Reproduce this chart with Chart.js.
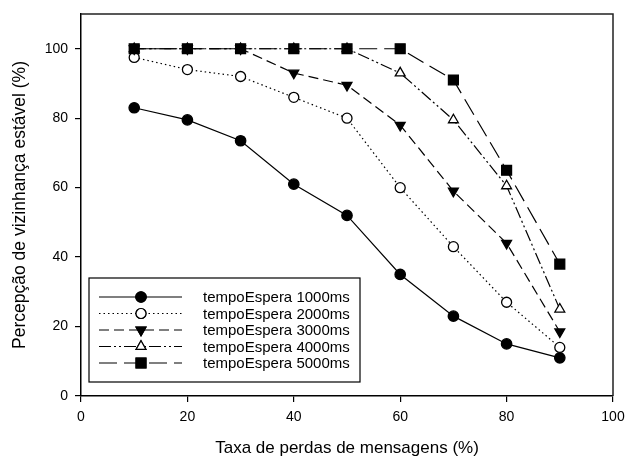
<!DOCTYPE html>
<html>
<head>
<meta charset="utf-8">
<script src="https://cdn.jsdelivr.net/npm/chart.js@4/dist/chart.umd.min.js"></script>
<style>
  html, body { margin: 0; padding: 0; background: #ffffff; }
  #wrap { width: 626px; height: 457px; position: relative; }
</style>
</head>
<body>
<div id="wrap"><canvas id="c" width="626" height="457"></canvas></div>
<script>
// ---- data ----
const lossRates = [10, 20, 30, 40, 50, 60, 70, 80, 90];
const seriesNames = ['tempoEspera 1000ms', 'tempoEspera 2000ms', 'tempoEspera 3000ms', 'tempoEspera 4000ms', 'tempoEspera 5000ms'];
const wait1000 = [83, 79.5, 73.5, 61, 52, 35, 23, 15, 11];
const wait2000 = [97.5, 94, 92, 86, 80, 60, 43, 27, 14];
const wait3000 = [100, 100, 100, 93, 89.5, 78, 59, 44, 18.5];
const wait4000 = [100, 100, 100, 100, 100, 93, 79.5, 60.5, 25];
const wait5000 = [100, 100, 100, 100, 100, 100, 91, 65, 38];
const xTickValues = [0, 20, 40, 60, 80, 100];
const yTickValues = [0, 20, 40, 60, 80, 100];
const xTitle = 'Taxa de perdas de mensagens (%)';
const yTitle = 'Percepção de vizinhança estável (%)';

const FONT = "'Liberation Sans', Arial, sans-serif";

function pts(values) { return lossRates.map((x, i) => ({ x: x, y: values[i] })); }

const styles = [
  { dash: [], pointStyle: 'circle', fill: '#000', radius: 5.2, rotation: 0 },
  { dash: [1.5, 3], pointStyle: 'circle', fill: '#fff', radius: 5, rotation: 0 },
  { dash: [10, 5], pointStyle: 'triangle', fill: '#000', radius: 5.7, rotation: 180 },
  { dash: [12, 3, 2, 3, 2, 3], pointStyle: 'triangle', fill: '#fff', radius: 5.7, rotation: 0 },
  { dash: [18, 7], pointStyle: 'rect', fill: '#000', radius: 7, rotation: 0 }
];
const allValues = [wait1000, wait2000, wait3000, wait4000, wait5000];

const datasets = allValues.map((vals, i) => ({
  label: seriesNames[i],
  data: pts(vals),
  order: 4 - i,
  borderColor: '#000',
  borderWidth: 1.2,
  borderDash: styles[i].dash,
  pointStyle: styles[i].pointStyle,
  pointRotation: styles[i].rotation,
  pointRadius: styles[i].radius,
  pointBackgroundColor: styles[i].fill,
  pointBorderColor: '#000',
  pointBorderWidth: 1.3,
  fill: false,
  tension: 0
}));

// frame plugin (top & right borders)
const framePlugin = {
  id: 'frame',
  afterDatasetsDraw(chart) {
    const { ctx, chartArea: a } = chart;
    ctx.save();
    ctx.strokeStyle = '#222';
    ctx.lineWidth = 1.5;
    ctx.beginPath();
    ctx.moveTo(a.left, a.top);
    ctx.lineTo(a.right, a.top);
    ctx.lineTo(a.right, a.bottom);
    ctx.stroke();
    ctx.restore();
  }
};

// custom legend: line sample with marker
const legendPlugin = {
  id: 'customLegend',
  afterDraw(chart) {
    const { ctx } = chart;
    const x0 = 89, y0 = 278, w = 271, h = 104;
    ctx.save();
    ctx.fillStyle = '#fff';
    ctx.fillRect(x0, y0, w, h);
    ctx.strokeStyle = '#000';
    ctx.lineWidth = 1.2;
    ctx.setLineDash([]);
    ctx.strokeRect(x0, y0, w, h);
    ctx.font = '15px ' + FONT;
    ctx.textBaseline = 'middle';
    ctx.textAlign = 'left';
    chart.data.datasets.forEach((ds, i) => {
      const y = 297 + i * 16.5;
      ctx.strokeStyle = '#000';
      ctx.lineWidth = 1.2;
      ctx.setLineDash(ds.borderDash);
      ctx.beginPath();
      ctx.moveTo(99, y);
      ctx.lineTo(182, y);
      ctx.stroke();
      ctx.setLineDash([]);
      Chart.helpers.drawPoint(ctx, {
        pointStyle: ds.pointStyle,
        rotation: ds.pointRotation,
        radius: ds.pointRadius,
        borderWidth: 1.3
      }, 141, y);
      ctx.fillStyle = ds.pointBackgroundColor;
      ctx.fill();
      ctx.stroke();
      ctx.fillStyle = '#000';
      ctx.fillText(ds.label, 203, y + 1);
    });
    ctx.restore();
  }
};

new Chart(document.getElementById('c'), {
  type: 'line',
  data: { datasets },
  plugins: [framePlugin, legendPlugin],
  options: {
    responsive: false,
    animation: false,
    layout: { padding: { top: 14, right: 13, left: 0, bottom: 0 } },
    plugins: { legend: { display: false }, tooltip: { enabled: false } },
    scales: {
      x: {
        type: 'linear',
        min: 0, max: 100,
        afterBuildTicks: s => { s.ticks = xTickValues.map(v => ({ value: v })); },
        afterFit: s => { s.height = 61; s.paddingLeft = 0; s.paddingRight = 0; },
        grid: { drawOnChartArea: false, drawTicks: true, tickLength: 6, tickColor: '#000', lineWidth: 1.2 },
        border: { display: true, color: '#000', width: 1.5 },
        ticks: { color: '#000', font: { family: FONT, size: 14 }, padding: 7, maxRotation: 0 },
        title: { display: true, text: xTitle, color: '#000', font: { family: FONT, size: 17 }, padding: { top: 0, bottom: -2 } }
      },
      y: {
        type: 'linear',
        min: 0, max: 110,
        afterBuildTicks: s => { s.ticks = yTickValues.map(v => ({ value: v })); },
        afterFit: s => { s.width = 81; s.paddingTop = 0; s.paddingBottom = 0; },
        grid: { drawOnChartArea: false, drawTicks: true, tickLength: 6, tickColor: '#000', lineWidth: 1.2 },
        border: { display: true, color: '#000', width: 1.5 },
        ticks: { color: '#000', font: { family: FONT, size: 14 }, padding: 7 },
        title: { display: true, text: yTitle, color: '#000', font: { family: FONT, size: 17.5 }, padding: { top: 10, bottom: 0 } }
      }
    }
  }
});
</script>
</body>
</html>
